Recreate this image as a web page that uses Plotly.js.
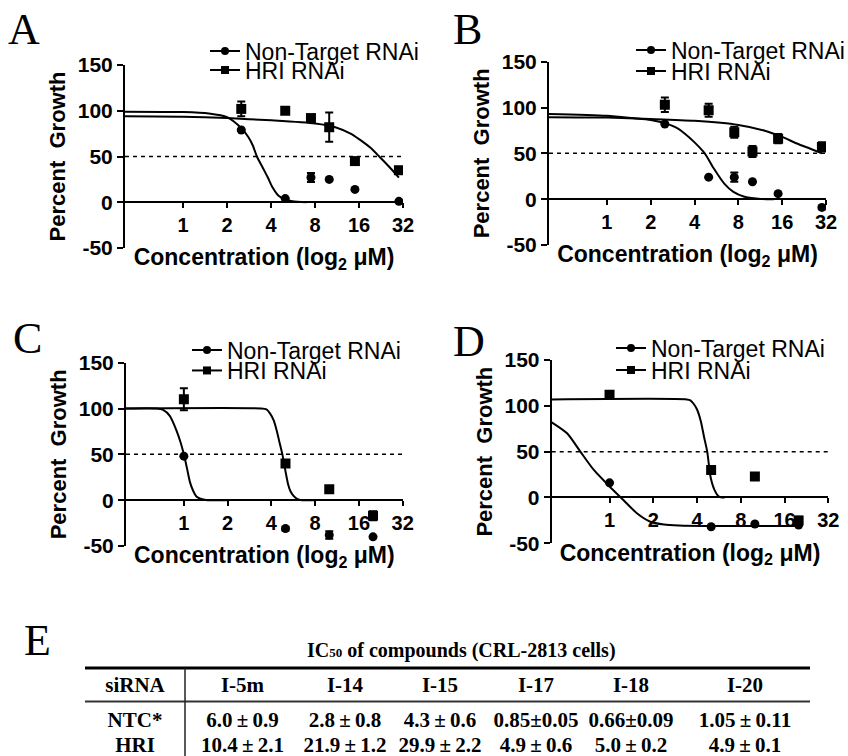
<!DOCTYPE html>
<html><head><meta charset="utf-8">
<script src="https://cdn.plot.ly/plotly-3.0.1.min.js"></script>
<style>html,body{margin:0;padding:0;background:#fff}#chart{width:848px;height:756px}</style>
</head><body><div id="chart"></div>
<script>
// ---------- data ----------
const seriesNames = ['Non-Target RNAi', 'HRI RNAi'];
const tickValues = [1, 2, 4, 8, 16, 32];
const tickLabels = ['1', '2', '4', '8', '16', '32'];
const yTickValues = [-50, 0, 50, 100, 150];
const yTickLabels = ['-50', '0', '50', '100', '150'];
const ic50Level = 50;

const concentrationsAB = [2.5, 5, 7.5, 10, 15, 30];
const concentrationsCD = [1, 5, 10, 20];

// Panel A
const aNonTarget = [79, 4, 27, 25, 14, 1];
const aNonTargetErr = [0, 0, 5, 0, 0, 0];
const aHRI = [102, 100, 92, 82, 45, 35];
const aHRIErr = [8, 3, 3, 16, 2, 2];
const aNonTargetFitX = [0.4, 1, 1.5, 2, 2.5, 2.8, 3.0, 3.2, 3.5, 3.8, 4.1, 4.5, 5, 5.6, 7];
const aNonTargetFitY = [99, 98.5, 97, 93, 81, 71, 62, 50, 38, 27, 16, 7, 3, 1, 0];
const aHRIFitX = [0.4, 1, 2, 4, 8, 11, 14, 16, 19, 22, 26, 30];
const aHRIFitY = [94, 93.5, 92, 89.5, 86, 82, 75, 69, 60, 50, 38, 27];

// Panel B
const bNonTarget = [82, 24, 24, 19, 6, -9];
const bNonTargetErr = [0, 0, 5, 0, 0, 2];
const bHRI = [103, 97, 73, 52, 66, 57];
const bHRIErr = [8, 7, 6, 6, 5, 5];
const bNonTargetFitX = [0.4, 1, 1.5, 2, 2.5, 3, 3.4, 4, 4.7, 5.4, 6.4, 7.4, 8.7, 11, 14];
const bNonTargetFitY = [93, 91, 88.5, 86.5, 83, 78, 72, 62, 50, 34, 17, 8, 3, 0.5, 0];
const bHRIFitX = [0.4, 1, 2, 4, 8, 12, 16, 20, 25, 30];
const bHRIFitY = [89.5, 89, 87.5, 85.5, 81, 75, 68, 61, 55, 50];

// Panel C
const cNonTarget = [48, -31, -38, -40];
const cNonTargetErr = [0, 2, 4, 0];
const cHRI = [110, 40, 12, -17];
const cHRIErr = [12, 0, 0, 5];
const cNonTargetFitX = [0.4, 0.65, 0.72, 0.8, 0.89, 0.95, 1, 1.05, 1.1, 1.16, 1.22, 1.3, 1.45, 2];
const cNonTargetFitY = [100, 100, 98.5, 92, 76, 63, 50, 35, 20, 10, 4, 1.5, 0, 0];
const cHRIFitX = [0.4, 3.4, 3.7, 3.9, 4.15, 4.35, 4.55, 4.76, 4.98, 5.2, 5.4, 5.66, 6, 6.5, 8];
const cHRIFitY = [100, 100, 99, 95, 87, 76, 63, 50, 33, 18, 10, 5, 1.5, 0, 0];

// Panel D
const dNonTarget = [16, -32, -29, -30];
const dNonTargetErr = [0, 0, 0, 0];
const dHRI = [112, 30, 23, -25];
const dHRIErr = [0, 0, 0, 4];
const dNonTargetFitX = [0.4, 0.51, 0.63, 0.78, 1, 1.25, 1.55, 1.91, 2.37, 3, 5, 10, 20];
const dNonTargetFitY = [82, 70, 50, 30, 12, -3, -17.5, -26.5, -29.5, -30.5, -31, -31, -31];
const dHRIFitX = [0.4, 3.4, 3.6, 3.8, 4.0, 4.25, 4.47, 4.7, 4.96, 5.28, 5.66, 6.2];
const dHRIFitY = [107, 107, 106, 102, 96, 83, 66, 50, 22, 8, 1, 0];

// Table E
const tableTitle = 'IC<span style="font-size:13px">50</span> of compounds (CRL-2813 cells)';
const tableHeader = ['siRNA', 'I-5m', 'I-14', 'I-15', 'I-17', 'I-18', 'I-20'];
const rowLabels = ['NTC*', 'HRI'];
const ntcValues = ['6.0\u2009\u00b1\u20090.9', '2.8\u2009\u00b1\u20090.8', '4.3\u2009\u00b1\u20090.6', '0.85\u00b10.05', '0.66\u00b10.09', '1.05\u2009\u00b1\u20090.11'];
const hriValues = ['10.4\u2009\u00b1\u20092.1', '21.9\u2009\u00b1\u20091.2', '29.9\u2009\u00b1\u20092.2', '4.9\u2009\u00b1\u20090.6', '5.0\u2009\u00b1\u20090.2', '4.9\u2009\u00b1\u20090.1'];

// ---------- layout helpers ----------
const W = 848, H = 756;
const px = v => v / W;
const py = v => 1 - v / H;
const SANS = 'Liberation Sans, Arial, sans-serif';
const SERIF = 'Liberation Serif, Times New Roman, serif';

const panels = [
  {letter: 'A', x: concentrationsAB, nt: aNonTarget, ntErr: aNonTargetErr, hri: aHRI, hriErr: aHRIErr,
   ntFitX: aNonTargetFitX, ntFitY: aNonTargetFitY, hriFitX: aHRIFitX, hriFitY: aHRIFitY,
   box: {left: 125, right: 403, top: 65, bottom: 248}, lpos: [24, 29], leg: [245, 51, 70]},
  {letter: 'B', x: concentrationsAB, nt: bNonTarget, ntErr: bNonTargetErr, hri: bHRI, hriErr: bHRIErr,
   ntFitX: bNonTargetFitX, ntFitY: bNonTargetFitY, hriFitX: bHRIFitX, hriFitY: bHRIFitY,
   box: {left: 549, right: 826, top: 61.7, bottom: 245}, lpos: [467, 29], leg: [671, 50, 71]},
  {letter: 'C', x: concentrationsCD, nt: cNonTarget, ntErr: cNonTargetErr, hri: cHRI, hriErr: cHRIErr,
   ntFitX: cNonTargetFitX, ntFitY: cNonTargetFitY, hriFitX: cHRIFitX, hriFitY: cHRIFitY,
   box: {left: 126, right: 402.7, top: 362.7, bottom: 546}, lpos: [27, 339], leg: [227, 350, 370.5]},
  {letter: 'D', x: concentrationsCD, nt: dNonTarget, ntErr: dNonTargetErr, hri: dHRI, hriErr: dHRIErr,
   ntFitX: dNonTargetFitX, ntFitY: dNonTargetFitY, hriFitX: dHRIFitX, hriFitY: dHRIFitY,
   box: {left: 551.7, right: 828.3, top: 360, bottom: 543.3}, lpos: [469, 341.5], leg: [651, 348, 370]}
];

const traces = [];
const layout = {
  width: W, height: H,
  margin: {l: 0, r: 0, t: 0, b: 0, autoexpand: false},
  paper_bgcolor: 'white', plot_bgcolor: 'white',
  font: {family: SANS, color: 'black'},
  showlegend: true,
  annotations: [], shapes: []
};

panels.forEach((p, i) => {
  const n = i + 1;
  const sfx = n === 1 ? '' : String(n);
  const xa = 'x' + sfx, ya = 'y' + sfx;
  const yd0 = py(p.box.bottom), yd1 = py(p.box.top);
  const zeroPos = yd0 + 0.25 * (yd1 - yd0);

  layout['xaxis' + sfx] = {
    domain: [px(p.box.left), px(p.box.right)],
    type: 'log', range: [Math.log10(0.4), Math.log10(32)],
    tickmode: 'array', tickvals: tickValues, ticktext: tickLabels,
    ticks: 'outside', ticklen: 5, tickwidth: 2, tickcolor: 'black',
    showline: true, linewidth: 2, linecolor: 'black',
    showgrid: false, zeroline: false,
    anchor: 'free', position: zeroPos,
    tickfont: {family: SANS, size: 20, weight: 'bold', color: 'black'},
    title: {text: 'Concentration (log<sub>2</sub> \u03bcM)', font: {family: SANS, size: 23, weight: 'bold', color: 'black'}, standoff: 13},
    fixedrange: true
  };
  layout['yaxis' + sfx] = {
    domain: [yd0, yd1], range: [-50, 150],
    tickmode: 'array', tickvals: yTickValues, ticktext: yTickLabels,
    ticks: 'outside', ticklen: 6, tickwidth: 2, tickcolor: 'black',
    showline: true, linewidth: 2, linecolor: 'black',
    showgrid: false, zeroline: false, anchor: xa,
    tickfont: {family: SANS, size: 21, weight: 'bold', color: 'black'},
    title: {text: 'Percent\u00a0 Growth', font: {family: SANS, size: 22, weight: 'bold', color: 'black'}, standoff: 6},
    fixedrange: true
  };

  const lineStyle = {color: 'black', width: 2, shape: 'spline', smoothing: 0.7};
  traces.push({x: p.ntFitX, y: p.ntFitY, xaxis: xa, yaxis: ya, mode: 'lines', line: lineStyle, showlegend: false, hoverinfo: 'skip'});
  traces.push({x: p.hriFitX, y: p.hriFitY, xaxis: xa, yaxis: ya, mode: 'lines', line: lineStyle, showlegend: false, hoverinfo: 'skip'});
  const errStyle = {type: 'data', visible: true, color: 'black', thickness: 2, width: 4};
  traces.push({x: p.x, y: p.nt, xaxis: xa, yaxis: ya, mode: 'markers', name: seriesNames[0],
    marker: {symbol: 'circle', size: 9, color: 'black'},
    error_y: Object.assign({array: p.ntErr}, errStyle), showlegend: false});
  traces.push({x: p.x, y: p.hri, xaxis: xa, yaxis: ya, mode: 'markers', name: seriesNames[1],
    marker: {symbol: 'square', size: 10, color: 'black'},
    error_y: Object.assign({array: p.hriErr}, errStyle), showlegend: false});

  // legend entries (symbol = line + marker, as in the source figure)
  const legA = 'legend' + (i === 0 ? '' : String(2 * i + 1));
  const legB = 'legend' + String(2 * i + 2);
  traces.push({x: [null], y: [null], xaxis: xa, yaxis: ya, mode: 'lines+markers', name: seriesNames[0],
    line: {color: 'black', width: 2}, marker: {symbol: 'circle', size: 8, color: 'black'}, legend: legA, showlegend: true});
  traces.push({x: [null], y: [null], xaxis: xa, yaxis: ya, mode: 'lines+markers', name: seriesNames[1],
    line: {color: 'black', width: 2}, marker: {symbol: 'square', size: 8, color: 'black'}, legend: legB, showlegend: true});
  const legStyle = {font: {family: SANS, size: 23, color: 'black'}, bgcolor: 'rgba(0,0,0,0)',
    borderwidth: 0, xanchor: 'left', yanchor: 'middle', x: px(p.leg[0] - 40), visible: true};
  layout[legA] = Object.assign({y: py(p.leg[1])}, legStyle);
  layout[legB] = Object.assign({y: py(p.leg[2])}, legStyle);

  // dashed 50% line
  layout.shapes.push({type: 'line', xref: xa + ' domain', yref: ya, x0: 0, x1: 1, y0: ic50Level, y1: ic50Level,
    line: {color: 'black', width: 1.5, dash: '4px,4px'}, layer: 'below'});

  // panel letter
  layout.annotations.push({text: p.letter, xref: 'paper', yref: 'paper', x: px(p.lpos[0]), y: py(p.lpos[1]),
    xanchor: 'center', yanchor: 'middle', showarrow: false, font: {family: SERIF, size: 44, color: 'black'}});
});

// ---------- table E ----------
const tableLeft = 85, tableRight = 810, tableTop = 668, midRule = 701.5, splitX = 185;
const cellColumns = [rowLabels].concat(ntcValues.map((v, k) => [v, hriValues[k]]));
traces.push({
  type: 'table',
  domain: {x: [px(tableLeft), px(tableRight)], y: [0, py(tableTop)]},
  columnwidth: [100, 115, 90, 100, 92, 98, 130],
  header: {values: tableHeader, align: 'center', height: 35,
    fill: {color: 'white'}, line: {width: 0, color: 'white'},
    font: {family: SERIF, size: 21, color: 'black', weight: 'bold'}},
  cells: {values: cellColumns, align: 'center', height: 25.5,
    fill: {color: 'white'}, line: {width: 0, color: 'white'},
    font: {family: SERIF, size: 21, color: 'black', weight: 'bold'}}
});
layout.shapes.push({type: 'line', xref: 'paper', yref: 'paper', x0: px(tableLeft), x1: px(tableRight), y0: py(tableTop), y1: py(tableTop), line: {color: 'black', width: 3}});
layout.shapes.push({type: 'line', xref: 'paper', yref: 'paper', x0: px(tableLeft), x1: px(tableRight), y0: py(midRule), y1: py(midRule), line: {color: '#333', width: 2}});
layout.shapes.push({type: 'line', xref: 'paper', yref: 'paper', x0: px(splitX), x1: px(splitX), y0: py(tableTop), y1: 0, line: {color: '#222', width: 1.5}});
layout.annotations.push({text: 'E', xref: 'paper', yref: 'paper', x: px(37), y: py(640), xanchor: 'center', yanchor: 'middle',
  showarrow: false, font: {family: SERIF, size: 44, color: 'black'}});
layout.annotations.push({text: tableTitle, xref: 'paper', yref: 'paper', x: px(462), y: py(650), xanchor: 'center', yanchor: 'middle',
  showarrow: false, font: {family: SERIF, size: 20, color: 'black', weight: 'bold'}});

Plotly.newPlot('chart', traces, layout, {displayModeBar: false, staticPlot: true});
</script>
</body></html>
